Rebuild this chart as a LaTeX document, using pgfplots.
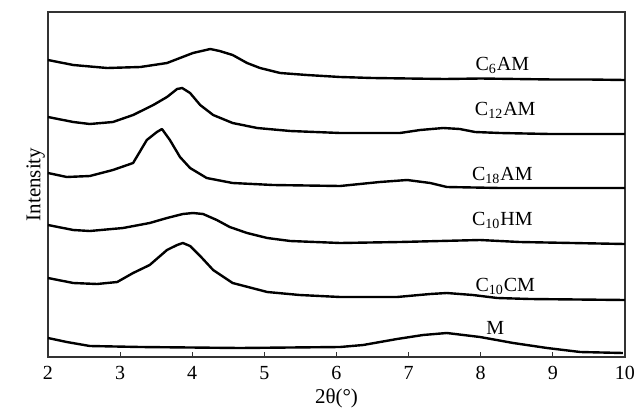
\documentclass[border=0pt]{standalone}
\usepackage{pgfplots}
\pgfplotsset{compat=1.18}
\usepackage{fontspec}
\setmainfont{Liberation Serif}
\begin{document}
\begin{tikzpicture}
\path[use as bounding box] (-24pt,-28.5pt) rectangle (293pt,178.5pt);
\begin{axis}[
  at={(0pt,0pt)}, anchor=south west,
  scale only axis, width=288.5pt, height=172.5pt,
  xmin=2, xmax=10, ymin=0, ymax=345,
  xtick={2,3,...,10}, ytick=\empty,
  xtick pos=bottom, tick align=inside, major tick length=2.5pt,
  /pgf/number format/assume math mode=true,
  tick label style={font=\fontsize{10}{12}\selectfont},
  xticklabel style={yshift=-1pt},
  axis line style={draw=black!80, line width=0.6pt},
  tick style={draw=black!80, line width=0.5pt},
  xlabel={2θ(°)}, ylabel={Intensity},
  label style={font=\fontsize{10.5}{12}\selectfont},
  xlabel style={yshift=2pt},
  ylabel style={yshift=-2pt},
  xrd/.style={black, solid, line width=1.2pt, line join=round, mark=none},
  clip=false,
]
% C6AM
\addplot[xrd] coordinates {(2.00,297)(2.35,292)(2.82,289)(3.28,290)(3.65,294)(3.83,299)(4.01,304)(4.25,308)(4.38,306)(4.56,302)(4.76,294)(4.94,289)(5.22,284)(5.59,282)(6.05,280)(6.5,279)(7.0,278.5)(7.5,278)(8.0,278.5)(8.5,278)(9.0,277.5)(9.5,277.5)(10,277)};
% C12AM
\addplot[xrd] coordinates {(2.00,240)(2.35,235)(2.58,233)(2.90,235)(3.18,242)(3.46,252)(3.65,260)(3.79,268)(3.86,269)(3.97,264)(4.11,252)(4.29,242)(4.56,234)(4.90,229)(5.36,226)(6.05,224)(6.88,224)(7.16,227)(7.48,229)(7.71,228)(7.92,225)(8.27,224)(8.96,223)(10,223)};
% C18AM
\addplot[xrd] coordinates {(2.00,184)(2.26,180)(2.58,181)(2.90,187)(3.18,194)(3.37,217)(3.51,225)(3.58,228)(3.69,217)(3.83,200)(3.97,189)(4.20,179)(4.56,174)(5.12,172)(6.05,171)(6.60,175)(6.98,177)(7.30,174)(7.53,170)(8.27,169)(10,169)};
% C10HM
\addplot[xrd] coordinates {(2.00,132)(2.35,127)(2.58,126)(3.04,129)(3.41,134)(3.65,139)(3.87,143)(4.01,144)(4.15,143)(4.34,137)(4.52,130)(4.76,124)(5.04,119)(5.36,116)(6.05,114)(6.88,115)(7.99,117)(8.54,115)(10,113)};
% C10CM
\addplot[xrd] coordinates {(2.00,79)(2.35,74)(2.68,73)(2.96,75)(3.18,84)(3.41,92)(3.65,107)(3.79,112)(3.87,114)(3.97,111)(4.11,101)(4.29,87)(4.56,74)(5.04,65)(5.49,62)(6.05,60)(6.84,60)(7.30,63)(7.53,64)(7.89,62)(8.23,59)(8.68,58)(10,57)};
% M
\addplot[xrd] coordinates {(2.00,19)(2.26,15)(2.58,11)(3.28,10)(4.66,9)(6.05,10)(6.37,12)(6.84,18)(7.20,22)(7.53,24)(7.99,20)(8.45,14)(8.92,9)(9.38,5)(9.97,4)};
\node[font=\fontsize{10}{12}\selectfont] at (axis cs:8.30,292) {C\textsubscript{6}AM};
\node[font=\fontsize{10}{12}\selectfont] at (axis cs:8.34,247) {C\textsubscript{12}AM};
\node[font=\fontsize{10}{12}\selectfont] at (axis cs:8.30,182) {C\textsubscript{18}AM};
\node[font=\fontsize{10}{12}\selectfont] at (axis cs:8.30,137) {C\textsubscript{10}HM};
\node[font=\fontsize{10}{12}\selectfont] at (axis cs:8.34,71) {C\textsubscript{10}CM};
\node[font=\fontsize{10}{12}\selectfont] at (axis cs:8.20,29) {M};
\end{axis}
\end{tikzpicture}
\end{document}
